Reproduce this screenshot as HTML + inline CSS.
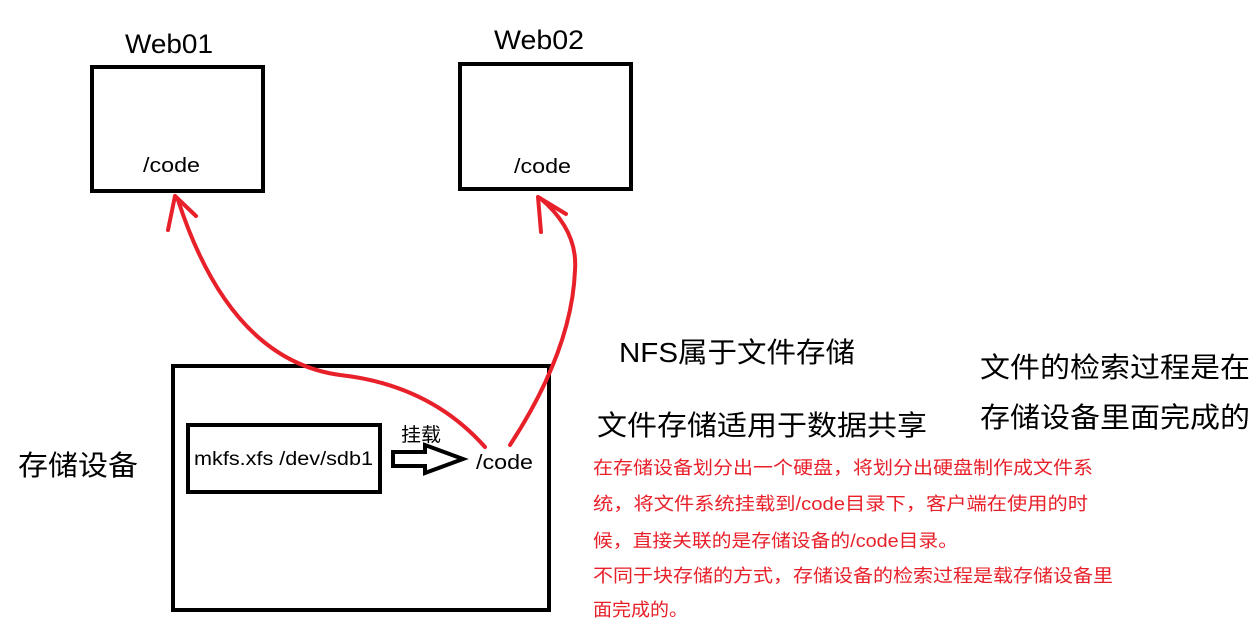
<!DOCTYPE html>
<html><head><meta charset="utf-8"><style>
body{margin:0;background:#fff;}
svg{display:block}
text{font-family:"Liberation Sans","Noto Sans CJK SC",sans-serif;}
</style></head><body>
<svg width="1260" height="638" viewBox="0 0 1260 638">
<rect x="92" y="67" width="171" height="124" fill="none" stroke="#000" stroke-width="4"/>
<rect x="460" y="64" width="171" height="125" fill="none" stroke="#000" stroke-width="4"/>
<rect x="173" y="366" width="376" height="244" fill="none" stroke="#000" stroke-width="4"/>
<rect x="188" y="425" width="192" height="67" fill="none" stroke="#000" stroke-width="4"/>
<text x="125" y="53" font-size="27" textLength="88" lengthAdjust="spacingAndGlyphs">Web01</text>
<text x="494" y="49" font-size="27" textLength="90" lengthAdjust="spacingAndGlyphs">Web02</text>
<text x="143" y="172" font-size="20" textLength="57" lengthAdjust="spacingAndGlyphs">/code</text>
<text x="514" y="173" font-size="20" textLength="57" lengthAdjust="spacingAndGlyphs">/code</text>
<text x="194" y="465" font-size="19" textLength="179" lengthAdjust="spacingAndGlyphs">mkfs.xfs /dev/sdb1</text>
<text x="401" y="441" font-size="19" textLength="40" lengthAdjust="spacingAndGlyphs">挂载</text>
<text x="476" y="469" font-size="20" textLength="57" lengthAdjust="spacingAndGlyphs">/code</text>
<text x="18" y="475" font-size="28" textLength="120" lengthAdjust="spacingAndGlyphs">存储设备</text>
<path d="M393,452 H425 V445 L463,459 L425,473 V466 H393 Z" fill="#fff" stroke="#000" stroke-width="4" stroke-linejoin="miter"/>
<g fill="none" stroke="#e8202a" stroke-width="4" stroke-linecap="round">
<path d="M485,447 Q430,385 340,375 Q230,360 178,200"/>
<path d="M175,196 L168,230 M175,196 L196,216"/>
<path d="M510,445 Q572,350 575,270 Q578,230 540,198"/>
<path d="M538,197 L541,232 M538,197 L566,214"/>
</g>
<text x="619" y="362" font-size="28" textLength="236" lengthAdjust="spacingAndGlyphs">NFS属于文件存储</text>
<text x="597" y="435" font-size="28" textLength="330" lengthAdjust="spacingAndGlyphs">文件存储适用于数据共享</text>
<text x="980" y="377" font-size="28" textLength="270" lengthAdjust="spacingAndGlyphs">文件的检索过程是在</text>
<text x="980" y="427" font-size="28" textLength="270" lengthAdjust="spacingAndGlyphs">存储设备里面完成的</text>
<g fill="#e8202a" font-size="18">
<text x="593" y="474" textLength="500" lengthAdjust="spacingAndGlyphs">在存储设备划分出一个硬盘，将划分出硬盘制作成文件系</text>
<text x="593" y="510" textLength="495" lengthAdjust="spacingAndGlyphs">统，将文件系统挂载到/code目录下，客户端在使用的时</text>
<text x="593" y="547" textLength="365" lengthAdjust="spacingAndGlyphs">候，直接关联的是存储设备的/code目录。</text>
<text x="593" y="582" textLength="520" lengthAdjust="spacingAndGlyphs">不同于块存储的方式，存储设备的检索过程是载存储设备里</text>
<text x="593" y="616" textLength="95" lengthAdjust="spacingAndGlyphs">面完成的。</text>
</g>
</svg>
</body></html>
